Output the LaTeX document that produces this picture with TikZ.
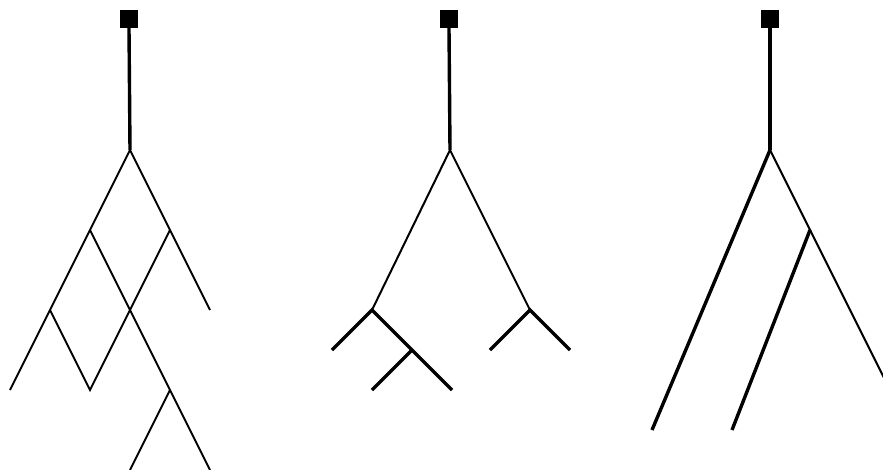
\documentclass[tikz,border=0pt]{standalone}
\begin{document}
\begin{tikzpicture}[x=1pt,y=-1pt,
  rootbox/.style={draw=none,fill=black,minimum size=18pt,inner sep=0pt},
  thinedge/.style={line width=2pt},
  thickedge/.style={line width=3.4pt},
  stemedge/.style={line width=3.4pt}]
\useasboundingbox (0,0) rectangle (883,469);
\clip (0,0) rectangle (883,469);
% ---------- left tree ----------
\node[rootbox] (A0) at (129,19) {};
\coordinate (A1) at (130,150);
\coordinate (A2) at (90,230);
\coordinate (A3) at (170,230);
\coordinate (A4) at (50,310);
\coordinate (A5) at (130,310);
\coordinate (A6) at (210,310);
\coordinate (A7) at (10,390);
\coordinate (A8) at (90,390);
\coordinate (A9) at (170,390);
\coordinate (A10) at (130,470);
\coordinate (A11) at (210,470);
\draw[stemedge] (A0.south) -- (A1);
\draw[thinedge] (A1) -- (A2) -- (A4) -- (A7);
\draw[thinedge] (A4) -- (A8) -- (A5) -- (A3);
\draw[thinedge] (A1) -- (A3) -- (A6);
\draw[thinedge] (A2) -- (A5) -- (A9) -- (A11);
\draw[thinedge] (A9) -- (A10);
% ---------- middle tree ----------
\node[rootbox] (B0) at (449,19) {};
\coordinate (B1) at (450,150);
\coordinate (B2) at (372,310);
\coordinate (B3) at (530,310);
\coordinate (B4) at (332,350);
\coordinate (B5) at (412,350);
\coordinate (B6) at (452,390);
\coordinate (B7) at (372,390);
\coordinate (B8) at (490,350);
\coordinate (B9) at (570,350);
\draw[stemedge] (B0.south) -- (B1);
\draw[thinedge] (B1) -- (B2);
\draw[thinedge] (B1) -- (B3);
\draw[thickedge] (B4) -- (B2) -- (B5) -- (B6);
\draw[thickedge] (B5) -- (B7);
\draw[thickedge] (B8) -- (B3) -- (B9);
% ---------- right tree ----------
\node[rootbox] (C0) at (770,19) {};
\coordinate (C1) at (770,150);
\coordinate (C2) at (810,230);
\coordinate (C3) at (891,392);
\coordinate (C4) at (652,430);
\coordinate (C5) at (732,430);
\draw[stemedge] (C0.south) -- (C1);
\draw[thickedge] (C1) -- (C4);
\draw[thinedge] (C1) -- (C2) -- (C3);
\draw[thickedge] (C2) -- (C5);
\end{tikzpicture}
\end{document}
